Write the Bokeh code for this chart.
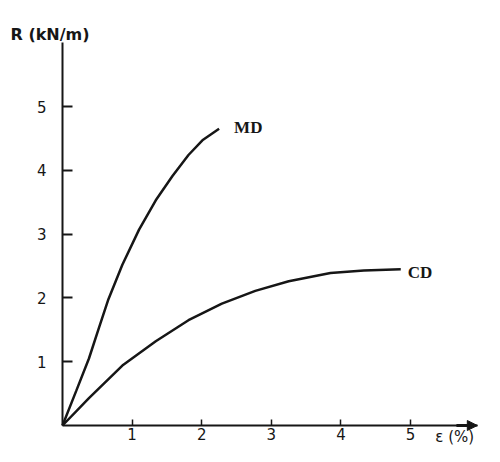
from bokeh.plotting import figure
from bokeh.models import Range1d, FixedTicker, Label, Arrow, NormalHead, ColumnDataSource
from bokeh.core.properties import value
from bokeh.embed import file_html
from bokeh.resources import INLINE

# ---- data ----
md_strain = [0, 0.2, 0.38, 0.52, 0.66, 0.86, 1.10, 1.34, 1.58, 1.81, 2.01, 2.25]
md_force = [0, 0.55, 1.05, 1.52, 1.98, 2.52, 3.07, 3.53, 3.91, 4.24, 4.47, 4.65]
cd_strain = [0, 0.38, 0.86, 1.34, 1.81, 2.29, 2.77, 3.25, 3.85, 4.33, 4.86]
cd_force = [0, 0.43, 0.94, 1.32, 1.65, 1.91, 2.11, 2.26, 2.39, 2.43, 2.45]
curve_names = ["MD", "CD"]
x_ticks = [1, 2, 3, 4, 5]
y_ticks = [1, 2, 3, 4, 5]
x_title = "ε (%)"
y_title = "R (kN/m)"
X_MAX = 5.96
Y_MAX = 6.0

INK = "#161616"
W, H = 484, 446
# pixel layout: origin of the axes and scale (px per unit)
OX, OY, SX, SY = 62, 425, 69.6, 63.8

p = figure(width=W, height=H,
           x_range=Range1d(-OX / SX, (W - OX) / SX),
           y_range=Range1d(-(H - OY) / SY, OY / SY),
           output_backend="svg", toolbar_location=None,
           min_border_left=0, min_border_right=0, min_border_top=0, min_border_bottom=0)
p.outline_line_color = None
p.xgrid.visible = False
p.ygrid.visible = False
p.background_fill_color = "white"
p.border_fill_color = "white"

for ax in (p.xaxis, p.yaxis):
    ax.fixed_location = 0
    ax.axis_line_color = INK
    ax.axis_line_width = 2
    ax.major_tick_line_color = INK
    ax.minor_tick_line_color = None
    ax.major_tick_out = 0
    ax.major_label_text_font = "DejaVu Sans"
    ax.major_label_text_font_size = "15px"
    ax.major_label_text_color = INK

p.xaxis.bounds = (0, X_MAX)
p.yaxis.bounds = (0, Y_MAX)
p.xaxis.ticker = FixedTicker(ticks=x_ticks)
p.yaxis.ticker = FixedTicker(ticks=y_ticks)
p.xaxis.major_tick_in = 6
p.xaxis.major_tick_line_width = 1.5
p.yaxis.major_tick_in = 10
p.yaxis.major_tick_line_width = 2
p.xaxis.major_label_standoff = 2
p.yaxis.major_label_standoff = 16

src_md = ColumnDataSource(dict(x=md_strain, y=md_force))
src_cd = ColumnDataSource(dict(x=cd_strain, y=cd_force))
p.line("x", "y", source=src_md, line_width=2.5, line_color=INK)
p.line("x", "y", source=src_cd, line_width=2.5, line_color=INK)

# curve labels next to the curve ends
lab_kw = dict(text_align="left", text_baseline="middle",
              text_font=value("Liberation Serif"), text_font_style="bold",
              text_font_size="17px", text_color=INK)
p.text(x=[md_strain[-1]], y=[md_force[-1]], text=[curve_names[0]],
       x_offset=15, y_offset=-1, **lab_kw)
p.text(x=[cd_strain[-1]], y=[cd_force[-1]], text=[curve_names[1]],
       x_offset=7, y_offset=3, **lab_kw)

# arrow head on the strain axis
p.add_layout(Arrow(end=NormalHead(size=10, fill_color=INK, line_color=INK, line_width=1),
                   x_start=X_MAX - 0.3, y_start=0, x_end=X_MAX, y_end=0,
                   line_color=INK, line_width=3))

# axis titles
p.add_layout(Label(x=0, y=Y_MAX, text=y_title, x_offset=-52, y_offset=8,
                   text_font="DejaVu Sans", text_font_style="bold", text_font_size="16px",
                   text_color=INK, text_baseline="alphabetic"))
p.add_layout(Label(x=X_MAX, y=0, text=x_title, x_offset=-42, y_offset=-11,
                   text_font="DejaVu Sans", text_font_size="15px",
                   text_color=INK, text_baseline="alphabetic"))

open("out.html", "w").write(file_html(p, INLINE))
